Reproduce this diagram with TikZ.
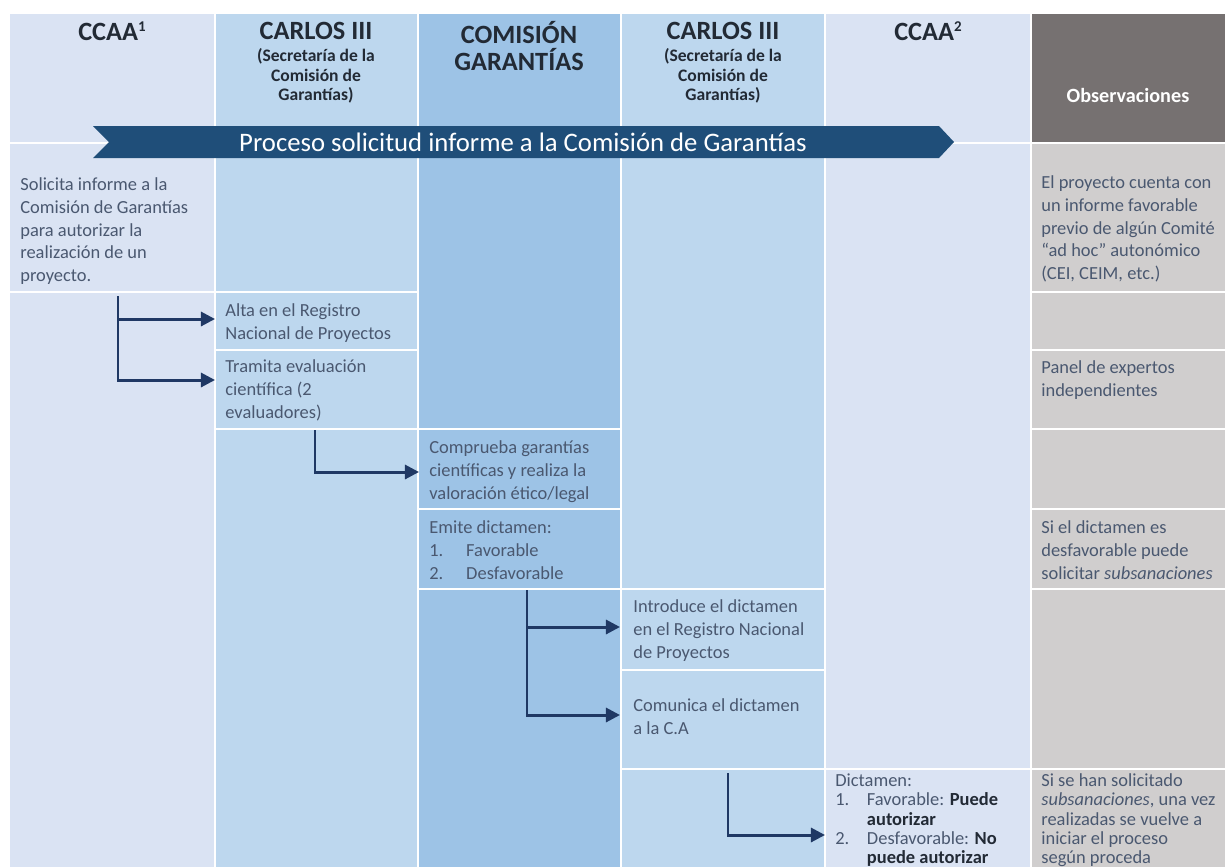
\documentclass[tikz,border=0pt]{standalone}
\usepackage{fontspec}
\setmainfont{Carlito}
\usepackage{tikz}
\usetikzlibrary{arrows.meta, positioning}

\definecolor{laneA}{HTML}{DAE3F3}
\definecolor{laneB}{HTML}{BDD7EE}
\definecolor{laneC}{HTML}{9DC3E6}
\definecolor{obshead}{HTML}{767171}
\definecolor{obsbody}{HTML}{D0CECE}
\definecolor{bannerblue}{HTML}{1F4E79}
\definecolor{flowblue}{HTML}{1F3864}
\definecolor{celltext}{HTML}{4A5870}
\definecolor{headtext}{HTML}{222A35}

\newcommand{\supnum}[1]{\raisebox{5pt}{\fontsize{8.5}{9}\selectfont #1}}

\begin{document}
\begin{tikzpicture}[
        x=0.02cm, y=-0.02cm,
        cell/.style={anchor=north west, inner sep=0pt, align=left, text=celltext,
                     font=\fontsize{10.5}{13}\selectfont},
        lastcell/.style={cell, font=\fontsize{10.5}{10.9}\selectfont},
        head/.style={inner sep=0pt, align=center, text=headtext,
                     font=\bfseries\fontsize{15}{18}\selectfont},
        subhead/.style={anchor=north, inner sep=0pt, align=center, text=headtext,
                        font=\bfseries\fontsize{10}{11.2}\selectfont},
        rowline/.style={white, line width=1.2pt},
        flow/.style={flowblue, line width=1.7pt, -{Triangle[length=8pt, width=8pt]}}
]
\useasboundingbox (0,0) rectangle (1225,867);

%--- swim lanes ----------------------------------------------
\fill[laneA]   (10,14)   rectangle (215,867);    % CCAA 1
\fill[laneB]   (215,14)  rectangle (418,867);    % Carlos III
\fill[laneC]   (418,14)  rectangle (621,867);    % Comision
\fill[laneB]   (621,14)  rectangle (825,867);    % Carlos III
\fill[laneA]   (825,14)  rectangle (1031,867);   % CCAA 2
\fill[obshead] (1031,14) rectangle (1225,143);   % observaciones
\fill[obsbody] (1031,143) rectangle (1225,867);
\foreach \x in {215,418,621,825,1031}
  \draw[white, line width=0.8pt] (\x,14) -- (\x,867);

%--- row separators ------------------------------------------
\draw[rowline] (10,143) -- (1225,143);
\draw[rowline] (10,292) -- (418,292)  (1031,292) -- (1225,292);
\draw[rowline] (215,350) -- (418,350) (1031,350) -- (1225,350);
\draw[rowline] (215,429) -- (621,429) (1031,429) -- (1225,429);
\draw[rowline] (418,509) -- (621,509) (1031,509) -- (1225,509);
\draw[rowline] (418,589) -- (825,589) (1031,589) -- (1225,589);
\draw[rowline] (621,670) -- (825,670);
\draw[rowline] (621,769) -- (1225,769);

%--- headers -------------------------------------------------
\node[head] (h-ccaa1)   at (112,31)  {CCAA\supnum{1}};
\node[head] (h-carlos1) at (316,31)  {CARLOS III};
\node[subhead] (h-carlos1-sub) at (316,48) {(Secretaría de la\\Comisión de\\Garantías)};
\node[head, anchor=north, font=\bfseries\fontsize{15}{15.5}\selectfont]
      (h-comision) at (519,21) {COMISIÓN\\GARANTÍAS};
\node[head] (h-carlos2) at (723,31)  {CARLOS III};
\node[subhead] (h-carlos2-sub) at (723,48) {(Secretaría de la\\Comisión de\\Garantías)};
\node[head] (h-ccaa2)   at (928,31)  {CCAA\supnum{2}};
\node[head, text=white, font=\bfseries\fontsize{11.5}{14}\selectfont]
      (h-obs) at (1128,95) {Observaciones};

%--- process banner ------------------------------------------
\fill[bannerblue] (93,126) -- (939,126) -- (954,142) -- (939,158)
                  -- (93,158) -- (109,142) -- cycle;
\node[text=white, font=\fontsize{15.2}{18}\selectfont] (banner)
      at (523,142) {Proceso solicitud informe a la Comisión de Garantías};

%--- cell texts ----------------------------------------------
\node[cell] (solicita)  at (20,174)  {\strut Solicita informe a la\\Comisión de Garantías\\para autorizar la\\realización de un\\proyecto.};
\node[cell] (alta)      at (225,300) {\strut Alta en el Registro\\Nacional de Proyectos};
\node[cell] (tramita)   at (225,356) {\strut Tramita evaluación\\científica (2\\evaluadores)};
\node[cell] (comprueba) at (429,437) {\strut Comprueba garantías\\científicas y realiza la\\valoración ético/legal};
\node[cell] (emite)     at (429,517) {\strut Emite dictamen:\\\makebox[21pt][l]{1.}Favorable\\\makebox[21pt][l]{2.}Desfavorable};
\node[cell] (introduce) at (633,596) {\strut Introduce el dictamen\\en el Registro Nacional\\de Proyectos};
\node[cell] (comunica)  at (633,695) {\strut Comunica el dictamen\\a la C.A};
\node[lastcell] (dictamen) at (835,773)
      {\strut Dictamen:\\\makebox[18pt][l]{1.}Favorable: \textbf{\color{headtext}Puede}\\\hspace*{18pt}\textbf{\color{headtext}autorizar}\\\makebox[18pt][l]{2.}Desfavorable: \textbf{\color{headtext}No}\\\hspace*{18pt}\textbf{\color{headtext}puede autorizar}};

\node[cell] (obs-previo)  at (1041,172) {\strut El proyecto cuenta con\\un informe favorable\\previo de algún Comité\\“ad hoc” autonómico\\(CEI, CEIM, etc.)};
\node[cell] (obs-panel)   at (1041,357) {\strut Panel de expertos\\independientes};
\node[cell] (obs-subsana) at (1041,517) {\strut Si el dictamen es\\desfavorable puede\\solicitar \textit{subsanaciones}};
\node[lastcell] (obs-reinicia) at (1041,773)
      {\strut Si se han solicitado\\\textit{subsanaciones}, una vez\\realizadas se vuelve a\\iniciar el proceso\\según proceda};

%--- flow arrows ---------------------------------------------
\coordinate (s1)  at (118,296);
\coordinate (t1a) at (215,319);
\coordinate (t1b) at (215,380);
\draw[flow] (s1) |- (t1a);
\draw[flow] (s1) |- (t1b);

\coordinate (s2) at (315,430);
\coordinate (t2) at (419,472);
\draw[flow] (s2) |- (t2);

\coordinate (s3)  at (527,590);
\coordinate (t3a) at (620,627);
\coordinate (t3b) at (620,715);
\draw[flow] (s3) |- (t3a);
\draw[flow] (s3) |- (t3b);

\coordinate (s4) at (728,773);
\coordinate (t4) at (825,835);
\draw[flow] (s4) |- (t4);

\end{tikzpicture}
\end{document}
